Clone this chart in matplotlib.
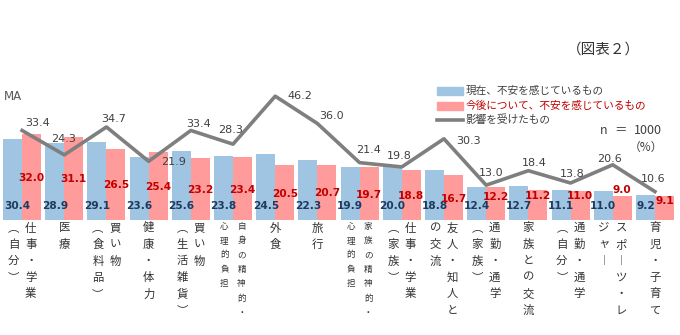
import matplotlib
matplotlib.use("Agg")
import matplotlib.pyplot as plt
from matplotlib.patches import Rectangle
from matplotlib.lines import Line2D
import numpy as np

# Category labels (columns of the vertical label separated by "\n", read right to left)
categories = [
    "仕事・学業\n（自分）", "医療", "買い物\n（食料品）", "健康・体力",
    "買い物\n（生活雑貨）", "自身の精神的・\n心理的負担", "外食", "旅行",
    "家族の精神的・\n心理的負担", "仕事・学業\n（家族）", "友人・知人と\nの交流",
    "通勤・通学\n（家族）", "家族との交流", "通勤・通学\n（自分）",
    "スポーツ・レ\nジャー", "育児・子育て",
]
current_anxiety = [30.4, 28.9, 29.1, 23.6, 25.6, 23.8, 24.5, 22.3,
                   19.9, 20.0, 18.8, 12.4, 12.7, 11.1, 11.0, 9.2]
future_anxiety = [32.0, 31.1, 26.5, 25.4, 23.2, 23.4, 20.5, 20.7,
                  19.7, 18.8, 16.7, 12.2, 11.2, 11.0, 9.0, 9.1]
affected = [33.4, 24.3, 34.7, 21.9, 33.4, 28.3, 46.2, 36.0,
            21.4, 19.8, 30.3, 13.0, 18.4, 13.8, 20.6, 10.6]
series_names = ["現在、不安を感じているもの", "今後について、不安を感じているもの", "影響を受けたもの"]

# Label placement (layout only)
line_label_dx = [0.37, -0.01, 0.18, 0.58, 0.18, -0.05, 0.59, 0.34,
                 0.21, -0.05, 0.57, 0.11, 0.13, 0.03, -0.07, -0.05]
line_label_dy = [2.7, 5.8, 3.0, -0.15, 2.3, 5.2, 0.07, 2.8,
                 4.7, 4.1, -0.8, 4.6, 2.9, 3.4, 2.2, 4.7]
future_label_y = [15.7, 15.3, 13.1, 12.2, 11.2, 11.2, 9.7, 10.2,
                  9.3, 9.0, 7.8, 8.7, 9.1, 9.1, 11.2, 7.2]
current_label_y = 5.2

BLUE = "#9fc5e3"
RED = "#ff9b9b"
GRAY = "#7f7f7f"
NAVY = "#1f3a5f"
DARKRED = "#c00000"
TEXT = "#404040"
JP = ["Noto Sans CJK JP", "DejaVu Sans"]

W, H = 680, 335
fig = plt.figure(figsize=(W / 100, H / 100), dpi=100)
fig.patch.set_facecolor("white")


def fx(px):
    return px / W


def fy(py):
    return 1 - py / H


ax = fig.add_axes([fx(1), fy(220), 675 / W, 134 / H])
ax.set_xlim(-0.5, len(categories) - 0.5)
ax.set_ylim(0, 50)
ax.axis("off")

x = np.arange(len(categories))
bw = 0.45
ax.bar(x - bw / 2, current_anxiety, width=bw, color=BLUE, zorder=2)
ax.bar(x + bw / 2, future_anxiety, width=bw, color=RED, zorder=2)
ax.plot(x, affected, color=GRAY, lw=2.6, zorder=3, solid_joinstyle="round")

for i in range(len(categories)):
    cx = x[i] - bw / 2 + (0.1 if i == 0 else 0)
    ax.text(cx, current_label_y, f"{current_anxiety[i]:.1f}", ha="center", va="center",
            fontsize=7.6, fontweight="bold", color=NAVY, zorder=5, clip_on=False)
    ax.text(x[i] + bw / 2, future_label_y[i], f"{future_anxiety[i]:.1f}", ha="center",
            va="center", fontsize=7.6, fontweight="bold", color=DARKRED, zorder=5)
    ax.text(x[i] + line_label_dx[i], affected[i] + line_label_dy[i], f"{affected[i]:.1f}",
            ha="center", va="center", fontsize=8, color=TEXT, zorder=5)

# Vertical category labels, one character per line
vertical_forms = {"（": "︵", "）": "︶", "ー": "︱"}
for i, label in enumerate(categories):
    cols = label.split("\n")
    small = max(len(c) for c in cols) >= 7
    step = 14.4 if small else 16.5
    first = -6 if small else -8
    size = 6.2 if small else 8.2
    n = len(cols)
    for k, col in enumerate(cols):
        dx = 0 if n == 1 else (8.6 if k == 0 else -8.6)
        for j, ch in enumerate(col):
            ch = vertical_forms.get(ch, ch)
            ax.annotate(ch, xy=(x[i], 0), xycoords="data",
                        xytext=(dx, first - j * step), textcoords="offset pixels",
                        ha="center", va="center", fontsize=size, color="#333333",
                        family=JP, annotation_clip=False)

# Header texts
fig.text(fx(603), fy(50), "（図表２）", ha="center", va="center", fontsize=10.5,
         color="#333333", family=JP)
fig.text(fx(4), fy(96), "MA", ha="left", va="center", fontsize=8.5, color="#595959")
fig.text(fx(600), fy(131), "n", ha="left", va="center", fontsize=9, color=TEXT, family=JP)
fig.text(fx(620), fy(131), "＝", ha="center", va="center", fontsize=9, color=TEXT, family=JP)
fig.text(fx(662), fy(131), "1000", ha="right", va="center", fontsize=9, color=TEXT, family=JP)
fig.text(fx(663), fy(147), "（%）", ha="right", va="center", fontsize=8.5,
         color=TEXT, family=JP)

# Legend
fig.patches.append(Rectangle((fx(437), fy(95)), 26 / W, 7.5 / H, transform=fig.transFigure,
                             color=BLUE, figure=fig))
fig.patches.append(Rectangle((fx(437), fy(109.5)), 26 / W, 7.5 / H, transform=fig.transFigure,
                             color=RED, figure=fig))
fig.lines.append(Line2D([fx(437), fx(463)], [fy(120), fy(120)], transform=fig.transFigure,
                        color=GRAY, lw=2.6, figure=fig))
legend_y = [91, 106, 120]
legend_colors = [TEXT, DARKRED, TEXT]
for name, ly, c in zip(series_names, legend_y, legend_colors):
    fig.text(fx(466), fy(ly), name, ha="left", va="center", fontsize=7.7, color=c, family=JP)

fig.savefig("out.png", dpi=100, facecolor="white")
